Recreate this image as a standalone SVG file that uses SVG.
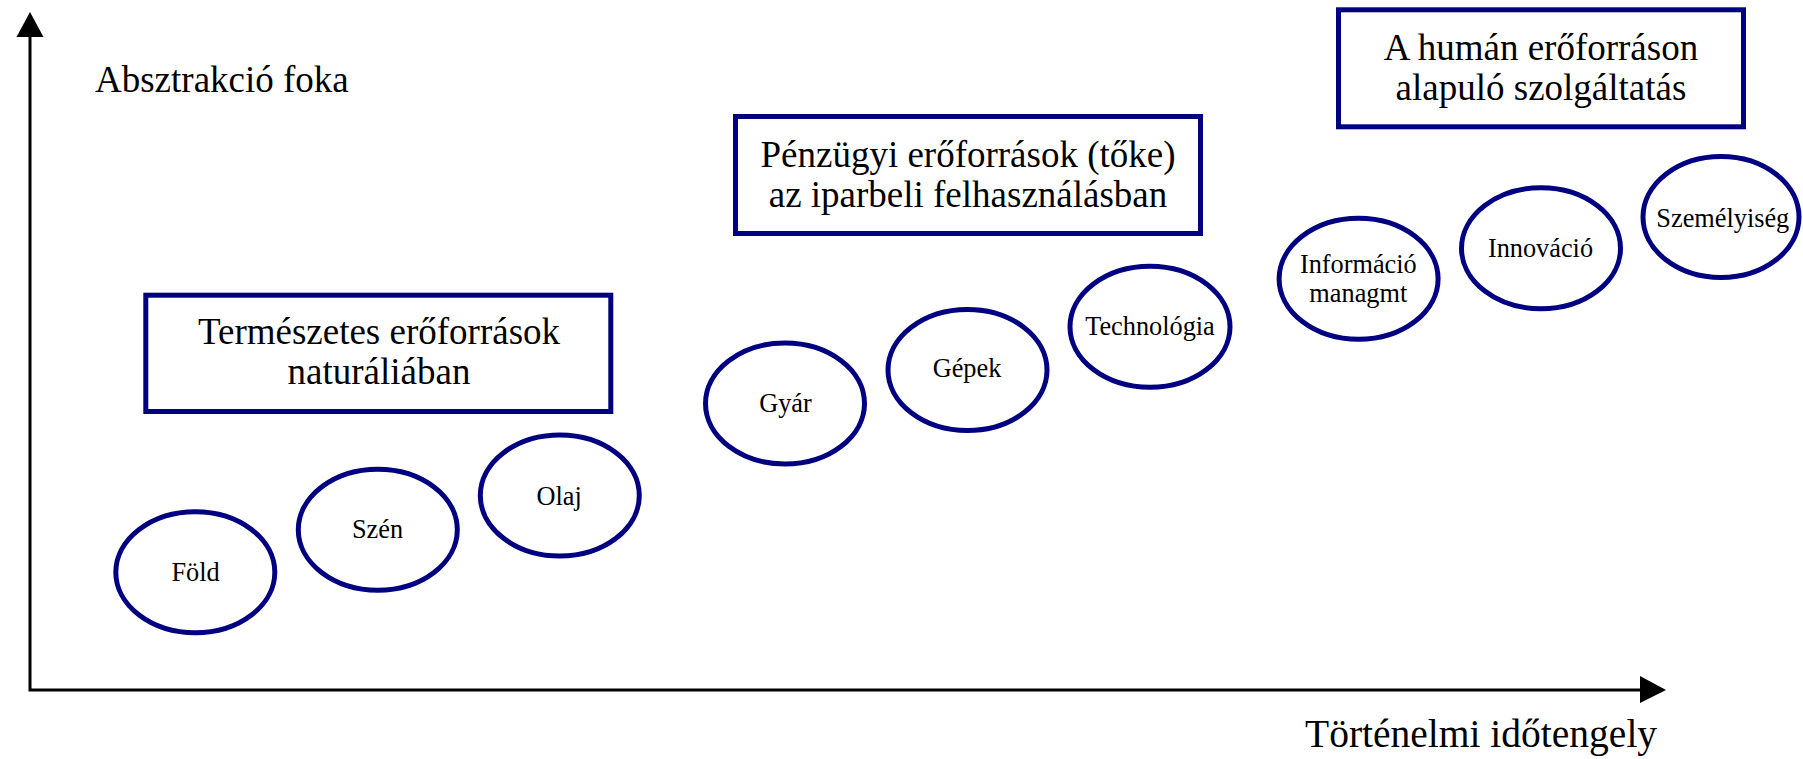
<svg xmlns="http://www.w3.org/2000/svg" width="1803" height="759" viewBox="0 0 1803 759">
<style>
  text { font-family: "Liberation Serif", "Times New Roman", serif; fill: #000; text-anchor: middle; }
  .box { fill: #fff; stroke: #000080; stroke-width: 5; }
  .ell { fill: #fff; stroke: #000080; stroke-width: 5; }
  .axis { stroke: #000; stroke-width: 3; fill: none; }
  .head { fill: #000; stroke: none; }
  .bt { font-size: 37px; }
  .et { font-size: 26.3px; }
  .al { font-size: 37px; text-anchor: start; }
</style>
<rect width="1803" height="759" fill="#fff"/>
<g id="connectors">
  <polyline class="axis" points="30,36 30,690 1642,690"/>
  <polygon class="head" points="30,12 16.5,37 43.5,37"/>
  <polygon class="head" points="1666,690 1640,676 1640,703"/>
</g>
<g id="label-y"><text class="al" x="95" y="92">Absztrakció foka</text></g>
<g id="label-x"><text class="al" x="1305" y="747" style="font-size:39.5px">Történelmi időtengely</text></g>
<g id="box1">
  <rect class="box" x="145.8" y="295.2" width="465" height="116.3"/>
  <text class="bt" x="379" y="344">Természetes erőforrások</text>
  <text class="bt" x="379" y="384">naturáliában</text>
</g>
<g id="box2">
  <rect class="box" x="735.5" y="116.5" width="465" height="117"/>
  <text class="bt" x="968" y="167">Pénzügyi erőforrások (tőke)</text>
  <text class="bt" x="968" y="207">az iparbeli felhasználásban</text>
</g>
<g id="box3">
  <rect class="box" x="1338.5" y="9.8" width="405" height="117"/>
  <text class="bt" x="1541" y="60">A humán erőforráson</text>
  <text class="bt" x="1541" y="99.5">alapuló szolgáltatás</text>
</g>
<g id="fold"><ellipse class="ell" cx="195.3" cy="572.2" rx="79.5" ry="60.5"/><text class="et" x="195.5" y="580.7">Föld</text></g>
<g id="szen"><ellipse class="ell" cx="377.8" cy="529.7" rx="79.5" ry="60.5"/><text class="et" x="377.5" y="538.3">Szén</text></g>
<g id="olaj"><ellipse class="ell" cx="559.8" cy="495.5" rx="79.5" ry="60.5"/><text class="et" x="559.2" y="505">Olaj</text></g>
<g id="gyar"><ellipse class="ell" cx="785" cy="403.5" rx="79.5" ry="60.5"/><text class="et" x="785.5" y="412">Gyár</text></g>
<g id="gepek"><ellipse class="ell" cx="967.5" cy="370" rx="79.5" ry="60.5"/><text class="et" x="967" y="377.3">Gépek</text></g>
<g id="technologia"><ellipse class="ell" cx="1150" cy="326.7" rx="80" ry="60.5"/><text class="et" x="1150" y="335">Technológia</text></g>
<g id="informacio"><ellipse class="ell" cx="1358.6" cy="278.8" rx="79.5" ry="60.5"/><text class="et" x="1358.3" y="272.7">Információ</text><text class="et" x="1358.3" y="301.7">managmt</text></g>
<g id="innovacio"><ellipse class="ell" cx="1541" cy="248.3" rx="79.5" ry="60.5"/><text class="et" x="1540.5" y="256.7">Innováció</text></g>
<g id="szemelyiseg"><ellipse class="ell" cx="1721" cy="217" rx="78" ry="60.5"/><text class="et" x="1722.8" y="227.3">Személyiség</text></g>
</svg>
